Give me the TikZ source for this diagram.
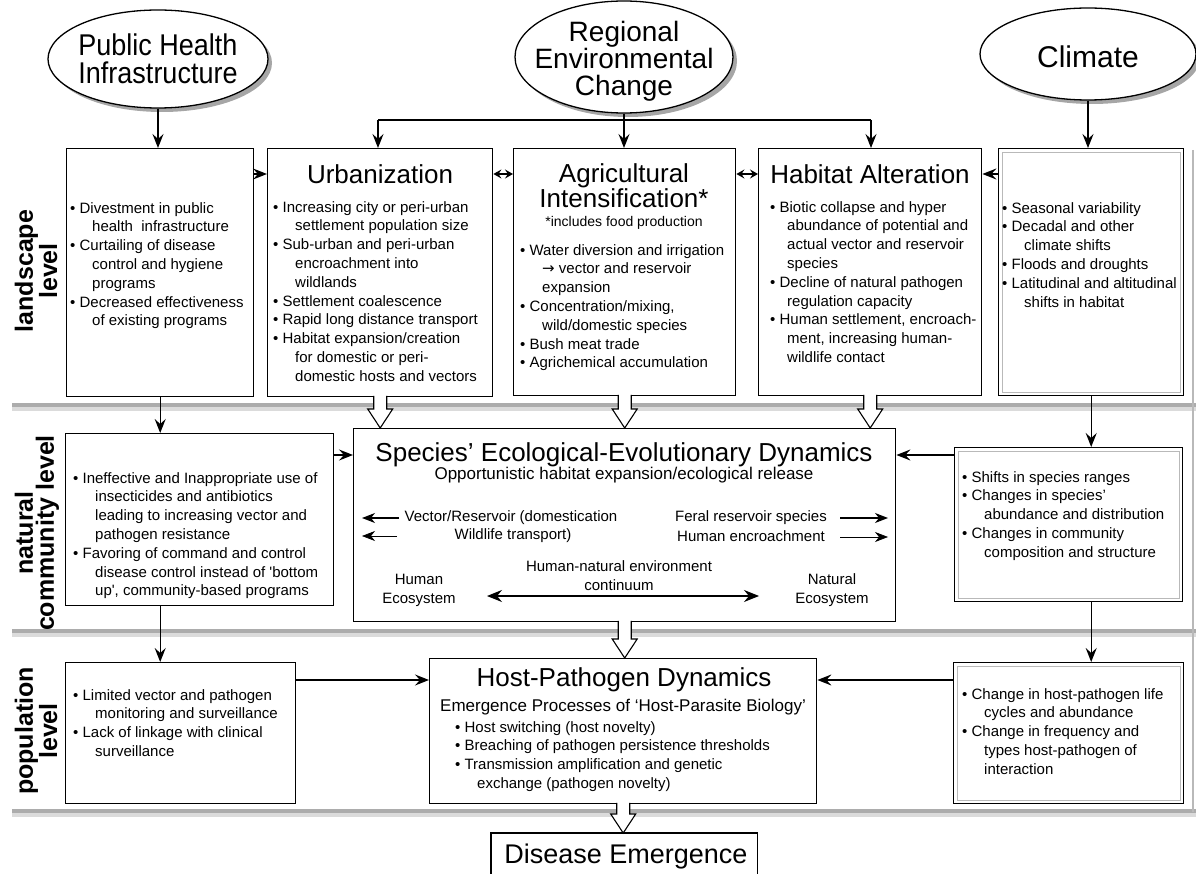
\documentclass[tikz,border=0pt]{standalone}
\usepackage{fontspec}
\setmainfont{Liberation Sans}
\newfontfamily\dejavu{DejaVu Sans}
\newfontfamily\narrowsf[FakeStretch=0.9]{Liberation Sans}
\usetikzlibrary{arrows.meta,shapes.geometric,calc,shadows}
\newcommand\ind{\hspace*{22pt}}
\newcommand\indh{\hspace*{17pt}}
\newcommand\holarrow[2]{%
  \path[hol] let \p1=(#1), \p2=(#2) in
   ({\x1-6.5pt},{\y1+1.5pt}) -- ({\x1-6.5pt},{\y2+19pt}) -- ({\x1-12.5pt},{\y2+19pt})
   -- (\x1,\y2) -- ({\x1+12.5pt},{\y2+19pt}) -- ({\x1+6.5pt},{\y2+19pt}) -- ({\x1+6.5pt},{\y1+1.5pt});}
\begin{document}
\begin{tikzpicture}[x=1pt,y=-1pt,
  box/.style={draw,line width=1.4pt,fill=white,anchor=north west,inner sep=0pt},
  ell/.style={ellipse,draw,line width=1.3pt,fill=white,inner sep=0pt,
     drop shadow={shadow xshift=4pt,shadow yshift=-4pt,fill=gray!70,opacity=1}},
  etxt/.style={align=center,inner sep=0pt},
  arr/.style={line width=1.3pt,-{Stealth[length=14pt,width=11pt,inset=5pt]}},
  sarr/.style={line width=1.2pt,-{Stealth[length=13pt,width=10pt,inset=4pt]}},
  tarr/.style={line width=0.7pt,-{Stealth[length=13pt,width=10pt,inset=4pt]}},
  darr/.style={line width=1.3pt,{Stealth[length=8pt,width=9pt,inset=3pt]}-{Stealth[length=8pt,width=9pt,inset=3pt]}},
  barr/.style={line width=1.3pt,{Stealth[length=15pt,width=12pt,inset=5pt]}-{Stealth[length=15pt,width=12pt,inset=5pt]}},
  txt/.style={anchor=north west,align=left,inner sep=0pt,font=\fontsize{15}{18.8}\selectfont},
  mid/.style={inner sep=0pt,align=center,font=\fontsize{15}{19}\selectfont},
  ttl/.style={inner sep=0pt,align=center,font=\fontsize{26}{25}\selectfont},
  sub/.style={inner sep=0pt,align=center,font=\fontsize{17}{20}\selectfont},
  side/.style={rotate=90,align=center,inner sep=0pt,font=\fontsize{25}{21}\selectfont\bfseries},
  hol/.style={draw,line width=1.1pt,fill=white},
  inner/.style={draw=gray!55,line width=0.6pt},
]
\useasboundingbox (0,0) rectangle (1196,874);

% level bands
\foreach \yy in {403,629,809} {
  \fill[gray!65] (12,\yy) rectangle (1196,\yy+4);
  \fill[gray!28] (12,\yy+4) rectangle (1196,\yy+8);
}
\draw[gray!55,line width=1.8pt] (1193,150) -- (1193,812);

% side labels
\node[side] (lv1) at (36,271) {landscape\\level};
\node[side] (lv2) at (37,533) {natural\\community level};
\node[side] (lv3) at (36,731) {population\\level};

% ellipses
\node[ell,minimum width=220pt,minimum height=98pt] (phi) at (158,59) {};
\node[etxt,font=\narrowsf\fontsize{30}{28}\selectfont] (phit) at (158,59) {Public Health\\Infrastructure};
\node[ell,minimum width=218pt,minimum height=112pt] (rec) at (624,57) {};
\node[etxt,font=\fontsize{28}{27}\selectfont] (rect) at (624,61) {Regional\\Environmental\\Change};
\node[ell,minimum width=216pt,minimum height=92pt] (cli) at (1088,54) {};
\node[etxt,font=\fontsize{30}{30}\selectfont] (clit) at (1088,57) {Climate};

% landscape level boxes
\node[box,minimum width=187pt,minimum height=248pt] (phib) at (66,148) {};
\node[box,minimum width=225pt,minimum height=248pt] (urb) at (267,148) {};
\node[box,minimum width=222pt,minimum height=247pt] (agri) at (513,148) {};
\node[box,minimum width=223pt,minimum height=247pt] (hab) at (758,148) {};
\node[box,minimum width=185pt,minimum height=247pt] (clib) at (998,148) {};
\draw[inner] ([shift={(4,4)}]clib.north west) rectangle ([shift={(-4,-4)}]clib.south east);

\node[ttl] (urbt) at (380,174) {Urbanization};
\node[ttl] (agrt) at (624,186) {Agricultural\\Intensification*};
\node[inner sep=0pt,font=\fontsize{14}{16}\selectfont] (inc) at (624,223) {*includes food production};
\node[ttl] (habt) at (870,174) {Habitat Alteration};

\node[txt] (phix) at (70,202) {• Divestment in public\\\ind health\ \ infrastructure\\• Curtailing of disease\\\ind control and hygiene\\\ind programs\\• Decreased effectiveness\\\ind of existing programs};
\node[txt] (urbx) at (273,201) {• Increasing city or peri-urban\\\ind settlement population size\\• Sub-urban and peri-urban\\\ind encroachment into\\\ind wildlands\\• Settlement coalescence\\• Rapid long distance transport\\• Habitat expansion/creation\\\ind for domestic or peri-\\\ind domestic hosts and vectors};
\node[txt] (agrx) at (520,244) {• Water diversion and irrigation\\\ind{\dejavu →} vector and reservoir\\\ind expansion\\• Concentration/mixing,\\\ind wild/domestic species\\• Bush meat trade\\• Agrichemical accumulation};
\node[txt] (habx) at (770,201) {• Biotic collapse and hyper\\\indh abundance of potential and\\\indh actual vector and reservoir\\\indh species\\• Decline of natural pathogen\\\indh regulation capacity\\• Human settlement, encroach-\\\indh ment, increasing human-\\\indh wildlife contact};
\node[txt] (clix) at (1002,202) {• Seasonal variability\\• Decadal and other\\\ind climate shifts\\• Floods and droughts\\• Latitudinal and altitudinal\\\ind shifts in habitat};

% natural community level boxes
\node[box,minimum width=268pt,minimum height=172pt] (coml) at (65,433) {};
\node[box,minimum width=542pt,minimum height=193pt] (spe) at (353,428) {};
\node[box,minimum width=228pt,minimum height=154pt] (comr) at (954,447) {};
\draw[inner] ([shift={(4,4)}]comr.north west) rectangle ([shift={(-4,-4)}]comr.south east);

\node[txt] (comlx) at (73,472) {• Ineffective and Inappropriate use of\\\ind insecticides and antibiotics\\\ind leading to increasing vector and\\\ind pathogen resistance\\• Favoring of command and control\\\ind disease control instead of \textquotesingle bottom\\\ind up\textquotesingle, community-based programs};
\node[txt] (comrx) at (962,471) {• Shifts in species ranges\\• Changes in species'\\\ind abundance and distribution\\• Changes in community\\\ind composition and structure};

\node[ttl] (spet) at (624,455) {Species’ Ecological-Evolutionary Dynamics};
\node[sub] (oppt) at (624,475) {Opportunistic habitat expansion/ecological release};
\node[mid] (vr) at (511,518) {Vector/Reservoir (domestication};
\node[mid] (wt) at (513,536) {Wildlife transport)};
\node[mid] (fr) at (751,518) {Feral reservoir species};
\node[mid] (he) at (751,536) {Human encroachment};
\node[mid] (hum) at (419,590) {Human\\Ecosystem};
\node[mid] (cont) at (619,576) {Human-natural environment\\continuum};
\node[mid] (nat) at (832,590) {Natural\\Ecosystem};
\coordinate (va1) at (399,518); \coordinate (va2) at (362,518);
\coordinate (wa1) at (397,536); \coordinate (wa2) at (362,536);
\coordinate (fa1) at (840,518); \coordinate (fa2) at (888,518);
\coordinate (ha1) at (840,537); \coordinate (ha2) at (888,537);
\coordinate (ca1) at (487,596); \coordinate (ca2) at (759,596);
\draw[sarr] (va1) -- (va2);
\draw[tarr] (wa1) -- (wa2);
\draw[sarr] (fa1) -- (fa2);
\draw[tarr] (ha1) -- (ha2);
\draw[barr] (ca1) -- (ca2);

% population level boxes
\node[box,minimum width=230pt,minimum height=141pt] (popl) at (65,662) {};
\node[box,minimum width=387pt,minimum height=145pt] (hpd) at (429,658) {};
\node[box,minimum width=230pt,minimum height=141pt] (popr) at (953,662) {};
\draw[inner] ([shift={(4,4)}]popr.north west) rectangle ([shift={(-4,-4)}]popr.south east);

\node[txt] (poplx) at (73,689) {• Limited vector and pathogen\\\ind monitoring and surveillance\\• Lack of linkage with clinical\\\ind surveillance};
\node[txt] (poprx) at (962,688) {• Change in host-pathogen life\\\ind cycles and abundance\\• Change in frequency and\\\ind types host-pathogen of\\\ind interaction};
\node[ttl] (hpdt) at (624,680) {Host-Pathogen Dynamics};
\node[sub] (emt) at (623,707) {Emergence Processes of ‘Host-Parasite Biology’};
\node[txt] (hpdx) at (455,721) {• Host switching (host novelty)\\• Breaching of pathogen persistence thresholds\\• Transmission amplification and genetic\\\ind exchange (pathogen novelty)};

% disease emergence
\node[anchor=north west,minimum width=266pt,minimum height=45pt,inner sep=0pt] (de) at (491,833) {};
\draw[line width=1.4pt] (de.south west) -- (de.north west) -- (de.north east) -- (de.south east);
\node[inner sep=0pt,font=\fontsize{27}{27}\selectfont] (det) at (626,857) {Disease Emergence};

% connectors from drivers
\draw[arr] (phi.south) -- (phi.south |- phib.north);
\draw[arr] (rec.south) -- (rec.south |- agri.north);
\coordinate (j1) at (378,120);
\coordinate (j2) at (871,120);
\draw[line width=1.3pt] (j1) -- (j2);
\draw[arr] (j1) -- (j1 |- urb.north);
\draw[arr] (j2) -- (j2 |- hab.north);
\draw[arr] (cli.south) -- (cli.south |- clib.north);

% horizontal links in landscape level
\draw[arr] (phib.east |- urbt) -- (urb.west |- urbt);
\draw[darr] (urb.east |- urbt) -- (agri.west |- urbt);
\draw[darr] (agri.east |- habt) -- (hab.west |- habt);
\draw[arr] (clib.west |- habt) -- (hab.east |- habt);

% vertical links in side columns
\draw[arr] (phib.south) -- (phib.south |- coml.north);
\draw[arr] (phib.south |- coml.south) -- (phib.south |- popl.north);
\draw[arr] (clib.south) -- (clib.south |- comr.north);
\draw[arr] (clib.south |- comr.south) -- (clib.south |- popr.north);

% links into central boxes
\draw[arr] (coml.east |- spet) -- (spe.west |- spet);
\draw[arr] (comr.west |- spet) -- (spe.east |- spet);
\draw[arr] (popl.east |- hpdt) -- (hpd.west |- hpdt);
\draw[arr] (popr.west |- hpdt) -- (hpd.east |- hpdt);

% hollow arrows
\holarrow{urb.south}{urb.south |- spe.north}
\holarrow{agri.south}{agri.south |- spe.north}
\holarrow{hab.south}{hab.south |- spe.north}
\holarrow{spe.south}{spe.south |- hpd.north}
\holarrow{hpd.south}{hpd.south |- de.north}
\end{tikzpicture}
\end{document}
